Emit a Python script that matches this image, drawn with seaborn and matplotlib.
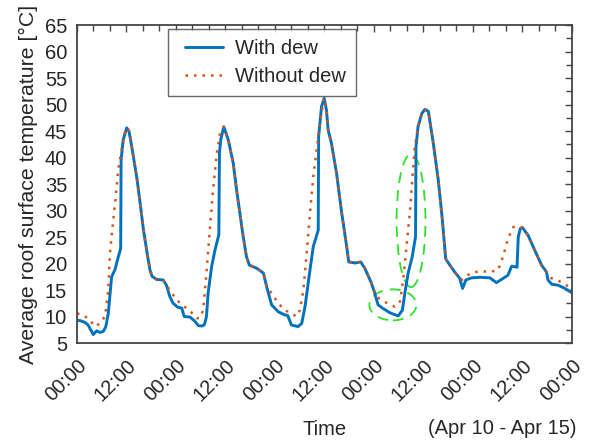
import matplotlib
matplotlib.use("Agg")
import matplotlib.pyplot as plt
import seaborn as sns
import pandas as pd
from matplotlib.patches import Ellipse
from matplotlib.ticker import MultipleLocator, FuncFormatter

# Hours since Apr 10 00:00 and average roof surface temperature (°C)
with_dew_hours = [
    0.0, 0.9, 1.9, 2.7, 3.95, 4.8, 5.6, 6.4, 7.0, 7.6, 8.4, 9.2, 10.0, 10.6, 10.7,
    11.2, 12.05, 12.6, 13.3, 14.55, 15.3, 16.1, 17.0, 17.7, 18.2, 19.3, 20.9, 21.7,
    22.5, 23.3, 24.55, 25.4, 26.0, 27.4, 28.6, 29.4, 30.3, 30.8, 31.0, 31.4, 31.8,
    32.65, 33.45, 34.4, 34.55, 34.9, 35.6, 36.7, 37.9, 38.7, 39.5, 40.3, 41.1, 41.8,
    43.6, 45.2, 46.0, 47.2, 48.8, 50.4, 51.1, 52.0, 53.6, 54.5, 55.3, 56.5, 57.3,
    58.5, 58.6, 59.3, 59.95, 60.5, 60.9, 61.7, 62.95, 64.2, 65.4, 65.9, 67.4, 68.8,
    69.8, 71.4, 72.2, 73.0, 74.25, 75.9, 77.9, 78.9, 79.5, 80.3, 81.3, 82.1, 82.2,
    82.7, 83.6, 84.4, 85.2, 86.4, 87.6, 88.6, 89.4, 90.4, 91.6, 92.8, 93.5, 94.3,
    95.7, 97.7, 100.1, 101.7, 102.95, 104.5, 105.4, 106.7, 107.0, 107.5, 108.0,
    109.4, 111.0, 112.65, 113.85, 114.2, 115.1, 116.7, 118.3, 120.0,
]
with_dew_temp = [
    9.3, 9.2, 8.9, 8.4, 6.6, 7.3, 7.0, 7.2, 8.1, 10.6, 17.5, 18.8, 21.2, 22.8, 39.5,
    43.3, 45.6, 45.0, 42.0, 36.0, 31.5, 26.5, 22.0, 18.8, 17.6, 17.0, 16.9, 15.9,
    13.8, 12.5, 11.7, 11.6, 10.0, 9.9, 9.1, 8.3, 8.2, 8.4, 8.7, 10.0, 14.4,
    19.4, 22.5, 25.4, 41.0, 43.5, 45.8, 43.3, 38.9, 33.9, 29.5, 25.1, 21.3, 19.7,
    19.1, 18.2, 15.6, 12.2, 10.9, 10.3, 10.2, 8.4, 8.1, 8.7, 11.9, 18.8, 23.2,
    26.3, 44.0, 49.6, 51.2, 48.9, 45.2, 42.7, 37.0, 29.5, 23.2, 20.3, 20.1, 20.3,
    19.1, 16.3, 14.4, 12.2, 11.5, 10.7, 10.1, 11.2, 14.4, 18.2, 21.3, 25.1, 42.0,
    45.8, 48.3, 49.1, 48.7, 42.7, 35.8, 28.2, 20.9, 19.7, 18.4, 17.2, 15.3, 16.9,
    17.3, 17.4, 17.3, 16.4, 17.0, 17.8, 19.5, 19.3, 25.0, 26.6, 26.8,
    25.3, 22.5, 19.7, 18.4, 16.9, 16.1, 15.9, 15.3, 14.5,
]

without_dew_hours = [
    0.0, 0.9, 2.7, 4.4, 5.6, 6.8, 7.6, 8.0, 8.8, 9.4, 10.0, 10.8, 11.6, 12.05, 12.6,
    13.3, 14.55, 15.3, 16.1, 17.0, 17.7, 18.2, 19.3, 20.9, 21.7, 22.5, 24.2, 25.8,
    27.4, 29.0, 29.8, 30.6, 31.4, 32.2, 33.0, 33.9, 34.7, 35.6, 36.7, 37.9, 38.7,
    39.5, 40.3, 41.1, 41.8, 43.6, 45.2, 46.0, 47.2, 48.8, 50.4, 52.0, 53.2, 54.05,
    54.9, 55.7, 56.5, 57.3, 58.1, 58.9, 59.7, 59.95, 60.5, 60.9, 61.7, 62.95, 64.2,
    65.4, 65.9, 67.4, 68.8, 69.8, 71.4, 72.65, 73.9, 75.5, 77.1, 78.3, 79.1, 79.9,
    80.7, 81.3, 81.9, 82.7, 83.6, 84.4, 85.2, 86.4, 87.6, 88.6, 89.4, 90.4, 91.6,
    92.8, 93.3, 95.3, 97.7, 100.1, 102.1, 103.3, 104.5, 105.8, 107.4, 108.0, 109.4,
    111.0, 112.65, 113.85, 115.1, 117.1, 120.0,
]
without_dew_temp = [
    10.6, 10.4, 9.7, 8.1, 8.75, 10.0, 15.0, 22.0, 28.2, 32.6, 37.6, 41.4, 44.6, 45.6, 45.0,
    42.0, 36.0, 31.5, 26.5, 22.0, 18.8, 17.6, 17.0, 16.9, 15.9, 15.0, 13.1, 12.0,
    11.1, 9.7, 9.7, 11.2, 18.2, 26.3, 33.9, 40.8, 44.6, 45.8, 43.3, 38.9, 33.9,
    29.5, 25.1, 21.3, 19.7, 19.1, 18.2, 15.6, 14.4, 12.5, 11.2, 10.6, 10.0, 11.2,
    15.0, 21.9, 29.5, 36.4, 41.4, 46.5, 50.3, 51.2, 48.9, 45.2, 42.7, 37.0, 29.5,
    23.2, 20.3, 20.1, 20.3, 19.1, 16.3, 13.7, 13.1, 12.4, 11.85, 12.8, 16.9, 23.2,
    29.5, 35.8, 42.0, 45.8, 48.3, 49.1, 48.7, 42.7, 35.8, 28.2, 20.9, 19.7, 18.4,
    17.2, 16.9, 18.1, 18.6, 18.4, 18.75, 21.25, 24.7, 26.9, 26.9, 26.8, 25.3,
    22.5, 19.7, 18.4, 17.2, 16.6, 15.3,
]

series_labels = ["With dew", "Without dew"]
tick_labels = ["00:00", "12:00"]

with_dew = pd.DataFrame({"hours": with_dew_hours, "temp": with_dew_temp})
without_dew = pd.DataFrame({"hours": without_dew_hours, "temp": without_dew_temp})

sns.set_style("white")
plt.rcParams["font.family"] = ["Liberation Sans", "DejaVu Sans"]

text_color = "#262626"
spine_color = "#444444"
fs = 14.5

fig = plt.figure(figsize=(5.92, 4.43), dpi=100)
ax = fig.add_axes([0.130, 0.2257, 0.836, 0.7178])

sns.lineplot(data=with_dew, x="hours", y="temp", ax=ax, color="#0072BD",
             linewidth=2.1, label=series_labels[0], sort=False)
sns.lineplot(data=without_dew, x="hours", y="temp", ax=ax, color="#D95319",
             linewidth=1.8, label=series_labels[1], sort=False)
dot_style = (0, (1, 2.4))
ax.lines[1].set_linestyle(dot_style)

# Regions where dew delays morning warming
green = "#2fe02f"
ax.add_patch(Ellipse((76.6, 12.2), 11.4, 5.85, fill=False, edgecolor=green,
                     linewidth=1.3, linestyle=(0, (6, 4))))
ax.add_patch(Ellipse((81.0, 28.1), 7.0, 25.1, fill=False, edgecolor=green,
                     linewidth=1.3, linestyle=(0, (6, 4))))

ax.set_xlim(0, 120)
ax.set_ylim(5, 65)
ax.xaxis.set_major_locator(MultipleLocator(12))
ax.xaxis.set_minor_locator(MultipleLocator(4))
ax.yaxis.set_major_locator(MultipleLocator(5))
ax.yaxis.set_minor_locator(MultipleLocator(2.5))
ax.xaxis.set_major_formatter(FuncFormatter(
    lambda v, pos: tick_labels[int(round(v / 12)) % 2]))

ax.tick_params(which="both", direction="in", top=True, right=True,
               color=spine_color, width=1.0)
ax.tick_params(which="major", length=5, labelsize=fs, labelcolor=text_color)
ax.tick_params(which="minor", length=4)
ax.tick_params(axis="y", which="major", pad=7)
ax.tick_params(axis="x", which="major", pad=9)
for lab in ax.get_xticklabels():
    lab.set_rotation(45)
    lab.set_ha("right")
    lab.set_va("top")
    lab.set_rotation_mode("anchor")

for sp in ax.spines.values():
    sp.set_color(spine_color)
    sp.set_linewidth(1.3)

ax.set_ylabel("Average roof surface temperature [°C]", fontsize=15.3,
              color=text_color, labelpad=5)
ax.set_xlabel("Time", fontsize=fs, color=text_color, labelpad=11)
fig.text(576 / 592, 1 - 428 / 443, "(Apr 10 - Apr 15)", fontsize=fs,
         color=text_color, ha="right", va="center")

leg = ax.legend(loc="upper left", bbox_to_anchor=(0.184, 0.987), fontsize=fs,
                frameon=True, fancybox=False, borderaxespad=0, handlelength=2.25,
                handletextpad=0.6, borderpad=0.5, labelspacing=0.45)
leg.get_frame().set_edgecolor(spine_color)
leg.get_frame().set_linewidth(1.0)
for t in leg.get_texts():
    t.set_color(text_color)
# start the legend sample lines a little way in from the frame
for ln in leg.get_lines():
    xd = list(ln.get_xdata())
    if len(xd) >= 2:
        ln.set_xdata([xd[0] + 5.0] + xd[1:])
leg.get_lines()[-1].set_linestyle(dot_style)

fig.savefig("out.png", dpi=100)
